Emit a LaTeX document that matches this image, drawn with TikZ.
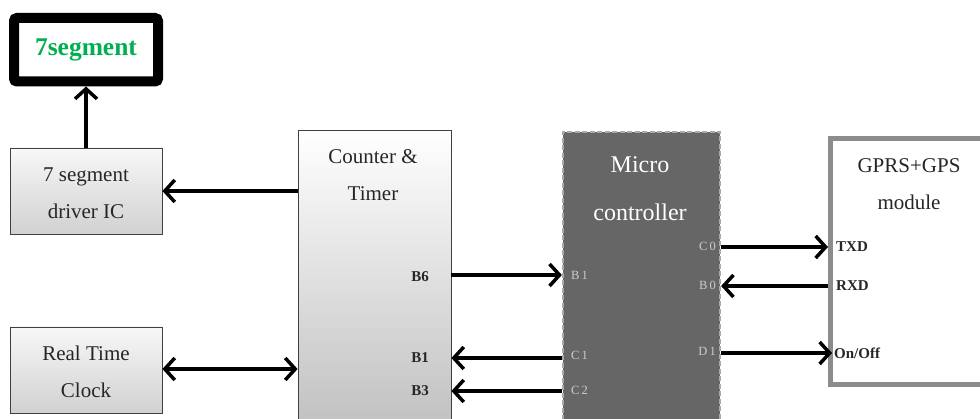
\documentclass[tikz,border=0pt]{standalone}
\usepackage{fontspec}
\setmainfont{Liberation Serif}
\usetikzlibrary{arrows.meta}
\definecolor{segGreen}{RGB}{0,176,80}
\definecolor{mcuFill}{RGB}{102,102,102}
\definecolor{mcuLine}{RGB}{170,170,170}
\definecolor{gpsLine}{RGB}{140,140,140}
\definecolor{pinGray}{RGB}{205,205,205}
\begin{document}
\begin{tikzpicture}[x=1pt,y=-1pt,
  conn/.style={line width=3.5pt,-{Straight Barb[length=10pt,width=22pt]}},
  biconn/.style={line width=3.5pt,{Straight Barb[length=10pt,width=22pt]}-{Straight Barb[length=10pt,width=22pt]}},
  greybox/.style={draw=black!75,line width=0.8pt,top color=white!97!black,bottom color=black!18,minimum width=152pt,minimum height=86pt,inner sep=0pt},
  boxtext/.style={align=center,font=\fontsize{21}{37}\selectfont,text=black!85},
  pinlbl/.style={font=\fontsize{15}{15}\selectfont\bfseries,text=black!85,inner sep=0pt},
  mcupin/.style={font=\fontsize{12.5}{12.5}\selectfont,text=pinGray,inner sep=0pt}
]
\useasboundingbox (0,0) rectangle (980,419);
\clip (0,0) rectangle (980,419);

% 7segment display
\node[draw=black,line width=10pt,rounded corners=3pt,fill=white,minimum width=144pt,minimum height=63.5pt,
  font=\fontsize{25.5}{25.5}\selectfont\bfseries,text=segGreen] (seg) at (86,49.75) {7segment};

% driver IC
\node[greybox] (drv) at (86,191) {};
\node[boxtext] (drvtxt) at (86,193.5) {7 segment\\driver IC};

% RTC
\node[greybox] (rtc) at (86,370) {};
\node[boxtext] (rtctxt) at (86,372) {Real Time\\Clock};

% Counter & Timer
\node[draw=black!75,line width=0.8pt,top color=white,bottom color=black!28,minimum width=153pt,minimum height=340pt,inner sep=0pt] (ctr) at (374.5,300) {};
\node[boxtext] (ctrtxt) at (373,175.5) {Counter \&\\Timer};
\node[pinlbl,anchor=east] (pB6) at (429,277) {B6};
\node[pinlbl,anchor=east] (pB1) at (429,358) {B1};
\node[pinlbl,anchor=east] (pB3) at (429,391) {B3};

% Microcontroller
\node[draw=mcuLine,fill=mcuFill,line width=2.2pt,dash pattern=on 5pt off 2.5pt,minimum width=157pt,minimum height=340pt,inner sep=0pt] (mcu) at (641.5,302) {};
\node[align=center,font=\fontsize{24}{48}\selectfont,text=white] (mcutxt) at (640,189) {Micro\\controller};
\node[mcupin,anchor=west] (mB1) at (571,275) {B\,1};
\node[mcupin,anchor=west] (mC1) at (571,355) {C\,1};
\node[mcupin,anchor=west] (mC2) at (571,390) {C\,2};
\node[mcupin,anchor=east] (mC0) at (716,246) {C\,0};
\node[mcupin,anchor=east] (mB0) at (716,285) {B\,0};
\node[mcupin,anchor=east] (mD1) at (716,351) {D\,1};

% GPRS+GPS module
\node[draw=gpsLine,line width=5pt,fill=white,minimum width=180pt,minimum height=246pt,inner sep=0pt] (gps) at (920.5,262) {};
\node[boxtext] (gpstxt) at (909,184) {GPRS+GPS\\module};
\node[pinlbl,anchor=west] (gTXD) at (836,247) {TXD};
\node[pinlbl,anchor=west] (gRXD) at (836,286) {RXD};
\node[pinlbl,anchor=west] (gOn) at (834,353) {On/Off};

% connectors
\draw[conn] (drv.north) -- (seg.south);
\draw[conn] (ctr.west |- drv.east) -- (drv.east);
\draw[biconn] (rtc.east |- 0,369) coordinate (rtcA) -- (ctr.west |- rtcA);
\draw[conn] (ctr.east |- mB1) -- (mcu.west |- mB1);
\draw[conn] (mcu.west |- pB1) -- (ctr.east |- pB1);
\draw[conn] (mcu.west |- pB3) -- (ctr.east |- pB3);
\draw[conn] (mcu.east |- gTXD) -- (gps.west |- gTXD);
\draw[conn] (gps.west |- gRXD) -- (mcu.east |- gRXD);
\draw[conn] (mcu.east |- gOn) -- ([xshift=4pt]gps.west |- gOn);
\end{tikzpicture}
\end{document}
